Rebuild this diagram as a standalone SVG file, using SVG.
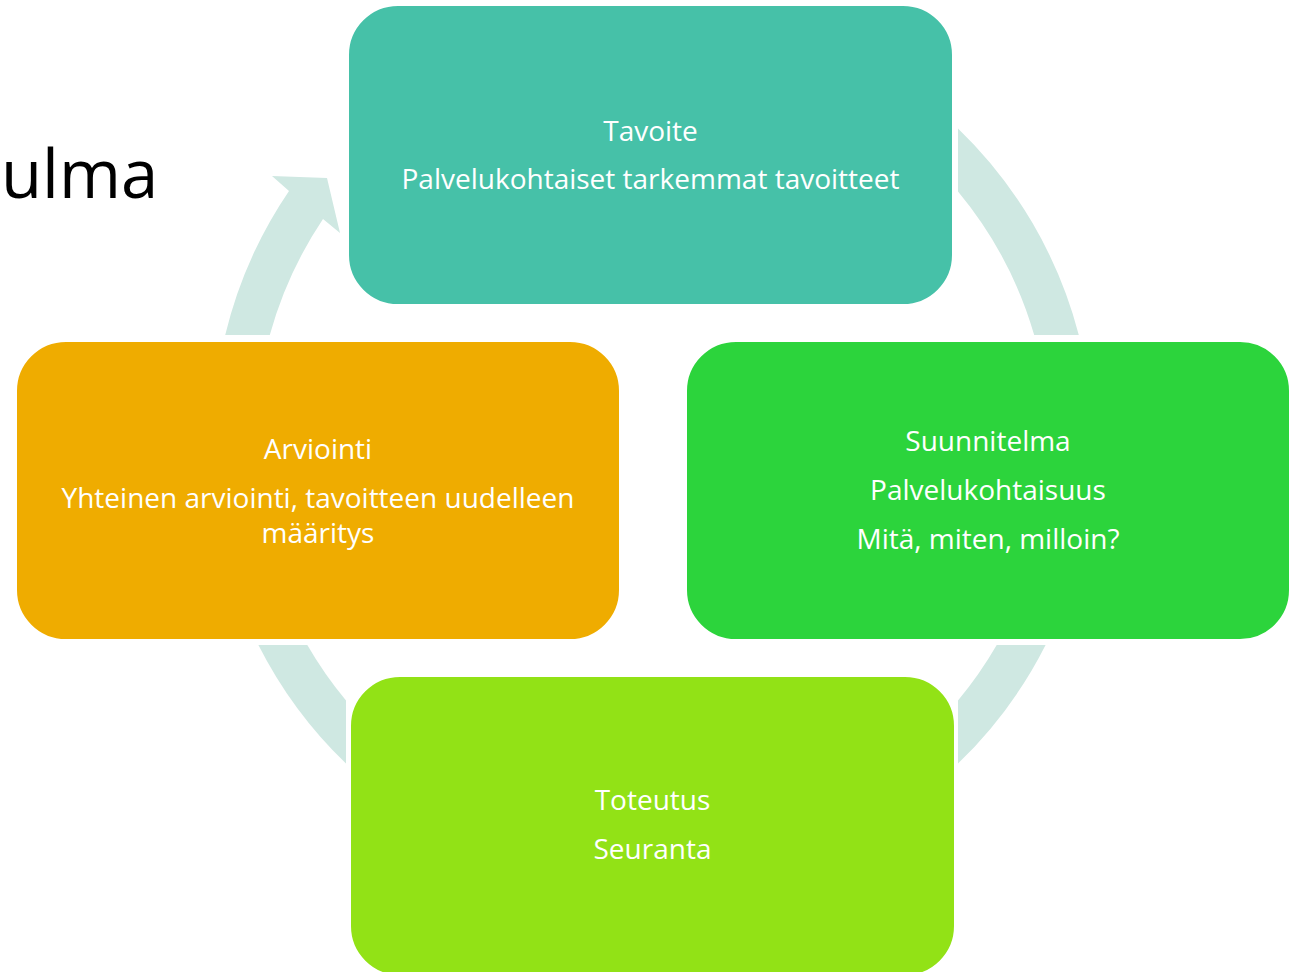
<svg xmlns="http://www.w3.org/2000/svg" width="1301" height="972" viewBox="0 0 1301 972">
  <style>
    .arc { fill: #CFE8E2; stroke: none; }
    .box { stroke: #FFFFFF; stroke-width: 2; }
    .lbl { font-family: "Open Sans", "Liberation Sans", sans-serif; font-size: 28px; fill: #FFFFFF; text-anchor: middle; }
    .title { font-family: "Open Sans", "Liberation Sans", sans-serif; font-size: 67px; fill: #000000; }
  </style>
  <rect width="1301" height="972" fill="#FFFFFF"/>
  <text class="title" x="1" y="198">ulma</text>
  <g id="connectors">
    <path class="arc" d="M958,128.4 A441,441 0 0,1 1078.8,335 L1034.2,335 A398,398 0 0,0 958,191.5 Z"/>
    <path class="arc" d="M1045.6,645 A441,441 0 0,1 958,763.6 L958,700.5 A398,398 0 0,0 996.7,645 Z"/>
    <path class="arc" d="M346,763.6 A441,441 0 0,1 258.4,645 L307.3,645 A398,398 0 0,0 346,700.5 Z"/>
    <path class="arc" d="M225.2,335 A441,441 0 0,1 289,191 L272,176 L327,178 L340,233 L323,219 A398,398 0 0,0 269.8,335 Z"/>
  </g>
  <g id="node-tavoite">
    <rect class="box" x="348" y="5" width="605" height="300" rx="50" fill="#46C1A8"/>
    <text class="lbl" x="650.5" y="140.5">Tavoite</text>
    <text class="lbl" x="650.5" y="188.5">Palvelukohtaiset tarkemmat tavoitteet</text>
  </g>
  <g id="node-suunnitelma">
    <rect class="box" x="686" y="341" width="604" height="299" rx="50" fill="#2CD43C"/>
    <text class="lbl" x="988" y="450.5">Suunnitelma</text>
    <text class="lbl" x="988" y="499.5">Palvelukohtaisuus</text>
    <text class="lbl" x="988" y="548.5">Mitä, miten, milloin?</text>
  </g>
  <g id="node-toteutus">
    <rect class="box" x="350" y="676" width="605" height="300" rx="50" fill="#92E216"/>
    <text class="lbl" x="652.5" y="810">Toteutus</text>
    <text class="lbl" x="652.5" y="859">Seuranta</text>
  </g>
  <g id="node-arviointi">
    <rect class="box" x="16" y="341" width="604" height="299" rx="50" fill="#EFAC00"/>
    <text class="lbl" x="318" y="458.5">Arviointi</text>
    <text class="lbl" x="318" y="507.5">Yhteinen arviointi, tavoitteen uudelleen</text>
    <text class="lbl" x="318" y="542.5">määritys</text>
  </g>
</svg>
